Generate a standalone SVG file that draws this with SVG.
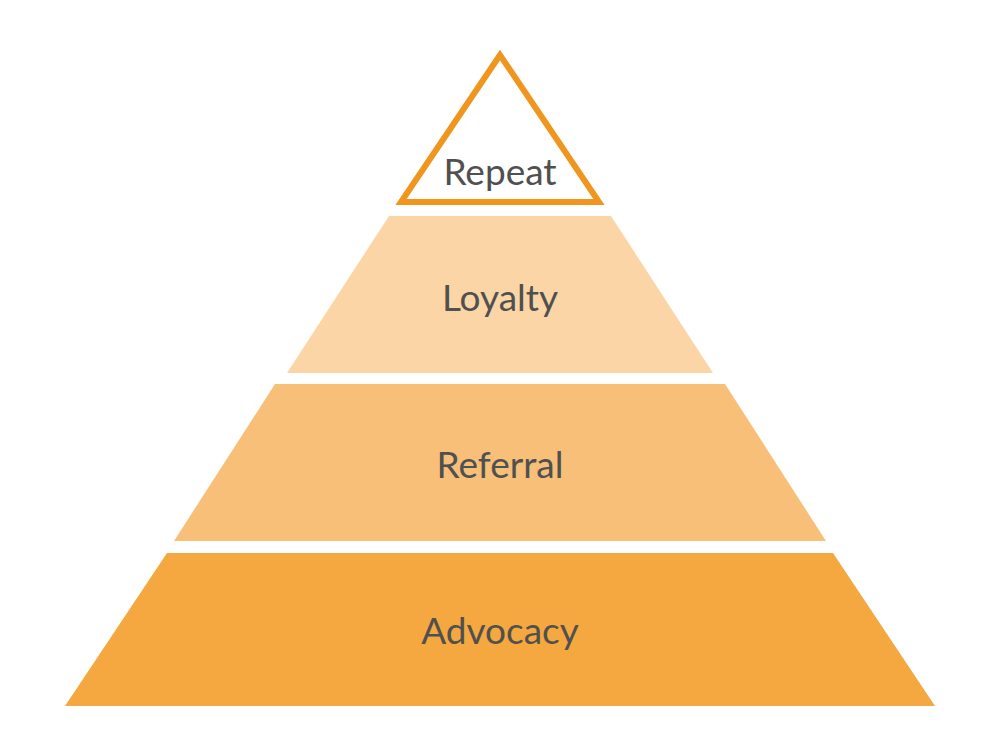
<svg xmlns="http://www.w3.org/2000/svg" width="1000" height="756" viewBox="0 0 1000 756">
<style>
.lbl{font-family:Lato,"Open Sans",sans-serif;font-size:37px;fill:#505050;text-anchor:middle}
</style>
<rect width="1000" height="756" fill="#ffffff"/>
<g id="repeat">
<polygon points="500,55 401,202 599,202" fill="#ffffff" stroke="#F0961E" stroke-width="6" stroke-linejoin="miter"/>
<text class="lbl" x="500" y="185">Repeat</text>
</g>
<g id="loyalty">
<polygon points="389,216 611,216 713,373 287,373" fill="#FBD5A5"/>
<text class="lbl" x="500" y="311">Loyalty</text>
</g>
<g id="referral">
<polygon points="275,384 725,384 826,541 174,541" fill="#F8BF78"/>
<text class="lbl" x="500" y="478">Referral</text>
</g>
<g id="advocacy">
<polygon points="167,553 833,553 935,706 65,706" fill="#F4A83F"/>
<text class="lbl" x="500" y="644">Advocacy</text>
</g>
</svg>
